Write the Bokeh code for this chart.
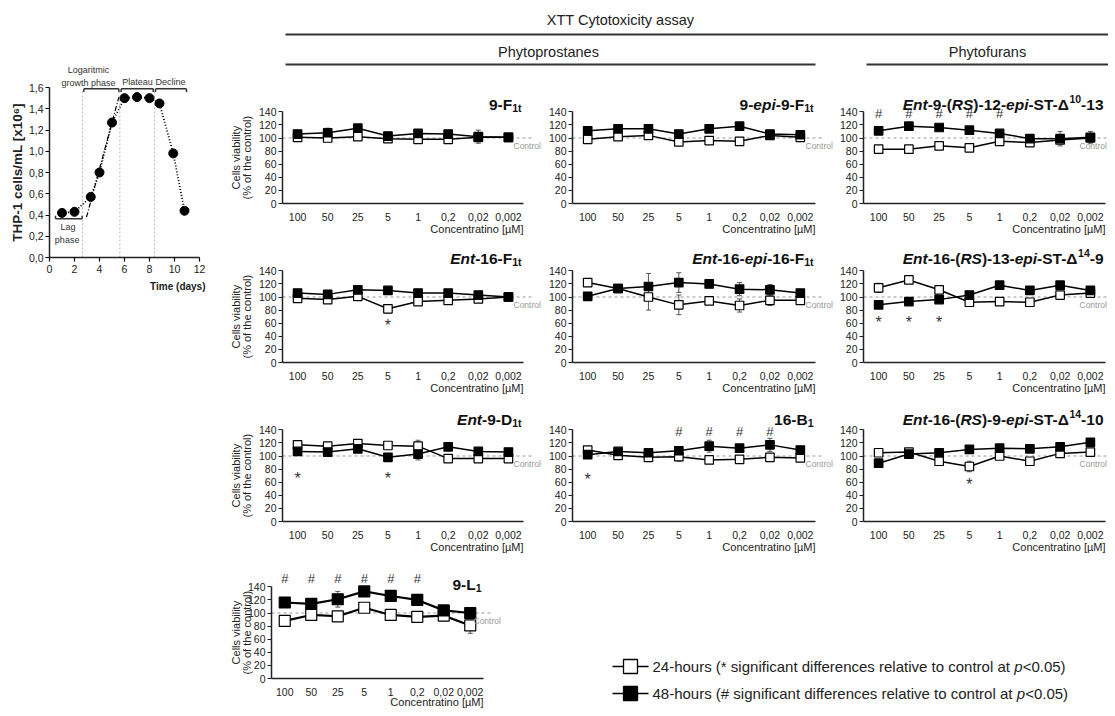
import math
from bokeh.plotting import figure
from bokeh.models import (Range1d, FixedTicker, Label, Whisker, ColumnDataSource,
                          TeeHead, Spacer, CustomJSTickFormatter)
from bokeh.layouts import row, column
from bokeh.embed import file_html
from bokeh.resources import INLINE
from bokeh.core.properties import value

FONT = "Liberation Sans"

# ======================= data =======================
conc_labels = ["100", "50", "25", "5", "1", "0,2", "0,02", "0,002"]
viab_yticks = [0, 20, 40, 60, 80, 100, 120, 140]
control_level = 100

growth_days = [1, 2, 3.3, 4, 5, 6, 7, 8, 8.8, 9.9, 10.8]
growth_cells = [0.42, 0.43, 0.57, 0.80, 1.27, 1.50, 1.51, 1.50, 1.45, 0.98, 0.44]
fit_days = [2.96, 5.55]
fit_cells = [0.38, 1.51]
phase_edges = [2.64, 5.63, 8.40]
growth_xticks = [0, 2, 4, 6, 8, 10, 12]
growth_yticks = [0, 0.2, 0.4, 0.6, 0.8, 1.0, 1.2, 1.4, 1.6]

# 9-F1t
f9_h24 = [101, 100, 102, 99, 98, 98, 101, 101]
f9_h24_sd = [2, 3, 2, 2, 3, 2, 4, 2]
f9_h48 = [106, 108, 115, 103, 107, 106, 102, 101]
f9_h48_sd = [2, 7, 3, 2, 3, 2, 10, 3]
# 9-epi-9-F1t
e9_h24 = [98, 102, 104, 94, 96, 95, 104, 101]
e9_h24_sd = [2, 2, 2, 3, 2, 2, 3, 2]
e9_h48 = [111, 114, 114, 106, 114, 118, 106, 105]
e9_h48_sd = [2, 2, 3, 2, 2, 2, 3, 2]
# Ent-9-(RS)-12-epi-ST-D10-13
st12_h24 = [83, 83, 88, 85, 95, 93, 97, 100]
st12_h24_sd = [2, 2, 2, 3, 2, 2, 3, 3]
st12_h48 = [111, 118, 116, 112, 107, 99, 99, 101]
st12_h48_sd = [2, 4, 4, 5, 3, 3, 11, 9]
# Ent-16-F1t
f16_h24 = [98, 96, 101, 82, 93, 95, 97, 100]
f16_h24_sd = [2, 2, 2, 6, 2, 2, 5, 2]
f16_h48 = [106, 104, 111, 110, 106, 106, 103, 100]
f16_h48_sd = [2, 2, 2, 2, 2, 2, 2, 2]
# Ent-16-epi-16-F1t
e16_h24 = [122, 113, 100, 88, 94, 87, 95, 95]
e16_h24_sd = [5, 2, 20, 15, 3, 10, 8, 4]
e16_h48 = [101, 113, 116, 122, 120, 112, 111, 106]
e16_h48_sd = [6, 2, 20, 15, 2, 10, 8, 2]
# Ent-16-(RS)-13-epi-ST-D14-9
st13_h24 = [114, 126, 111, 92, 93, 92, 103, 106]
st13_h24_sd = [7, 2, 3, 2, 3, 3, 3, 3]
st13_h48 = [88, 93, 96, 103, 118, 110, 118, 110]
st13_h48_sd = [2, 2, 2, 2, 2, 2, 2, 2]
# Ent-9-D1t
d9_h24 = [117, 115, 119, 116, 115, 96, 96, 96]
d9_h24_sd = [3, 2, 2, 2, 9, 3, 2, 2]
d9_h48 = [107, 106, 111, 98, 103, 114, 107, 106]
d9_h48_sd = [3, 4, 2, 2, 9, 3, 2, 2]
# 16-B1
b16_h24 = [109, 101, 98, 99, 94, 95, 98, 97]
b16_h24_sd = [2, 2, 2, 7, 2, 2, 2, 2]
b16_h48 = [102, 107, 105, 108, 115, 112, 117, 109]
b16_h48_sd = [2, 2, 2, 3, 9, 2, 10, 2]
# Ent-16-(RS)-9-epi-ST-D14-10
st9_h24 = [105, 106, 92, 84, 100, 92, 104, 106]
st9_h24_sd = [2, 2, 3, 8, 3, 3, 3, 3]
st9_h48 = [89, 103, 105, 110, 112, 111, 114, 121]
st9_h48_sd = [2, 2, 2, 4, 2, 2, 3, 4]
# 9-L1
l9_h24 = [88, 97, 95, 108, 97, 94, 96, 81]
l9_h24_sd = [3, 3, 3, 6, 3, 3, 8, 12]
l9_h48 = [116, 114, 121, 133, 126, 120, 104, 100]
l9_h48_sd = [3, 3, 12, 3, 3, 3, 3, 3]

legend_24 = ["24-hours (* significant differences relative to control at ", "p", "<0.05)"]
legend_48 = ["48-hours (# significant differences relative to control at ", "p", "<0.05)"]

# ======================= geometry (page px) =======================
SCALE = 0.655      # px per % unit
TOTAL_H = 702
# fig_x0, fig_x1, axis_left, axis_right, control-line extension, control label start
COLS = {"A": (223, 544, 282, 523, 8, 513), "B": (544, 836, 572, 815, 8, 805),
        "C": (836, 1108, 863, 1105, 3, 1079), "L": (223, 505, 271, 483, 8, 473)}
# fig_top, height, zero line y, title baseline above zero, x-label offset below zero
ROWS = {1: (75, 163, 203, 99, 25), 2: (238, 160, 362, 104, 25), 3: (398, 162, 521, 102, 25),
        4: (560, 150, 678, 94, 23)}

BW = {'-': 333, '(': 333, ')': 333, ' ': 278, 'E': 667, 'n': 611, 't': 333, 'e': 556, 'p': 611,
      'i': 278, 'S': 667, 'T': 611, 'R': 722, 'F': 611, 'D': 722, 'B': 722, 'L': 611, 'Δ': 700}
RW = {' ': 278, '(': 333, ')': 333, '*': 389, '#': 556, '-': 333, '<': 584, '.': 278,
      'a': 556, 'b': 556, 'c': 500, 'd': 556, 'e': 556, 'f': 278, 'g': 556, 'h': 556, 'i': 222,
      'l': 222, 'm': 833, 'n': 556, 'o': 556, 'p': 556, 'r': 333, 's': 500, 't': 278, 'u': 556,
      'v': 500, 'w': 722, 'y': 500, 'x': 500}
for d in "0123456789":
    BW[d] = 556
    RW[d] = 556


def twidth(s, table, size):
    return sum(table.get(c, 600) for c in s) * size / 1000.0


def add_title(p, runs, x_right, unit, y_base):
    TS, SS = 15.5, 10.5
    widths = [twidth(t, BW, SS if k in ("sub", "sup") else TS) for t, k in runs]
    cur = x_right - sum(widths) / unit
    for (t, k), w in zip(runs, widths):
        y, size, style = y_base, TS, "bold"
        if k == "sub":
            y, size = y_base - 3 / SCALE, SS
        elif k == "sup":
            y, size = y_base + 6 / SCALE, SS
        elif k == "bi":
            style = "bold italic"
        p.add_layout(Label(x=cur, y=y, text=t, text_align="left", text_baseline="alphabetic",
                           text_font=FONT, text_font_size=f"{size}px", text_font_style=style,
                           text_color="#111"))
        cur += w / unit


def style_axis(ax, size="10.5px"):
    ax.axis_line_width = 1.5
    ax.axis_line_color = "#222"
    ax.minor_tick_line_color = None
    ax.major_label_text_font = FONT
    ax.major_label_text_font_size = size
    ax.major_label_text_color = "#222"


def viability_panel(col, rw, runs, h24, h24_sd, h48, h48_sd, sig24=(), sig48=(),
                    star_y=65, hash_y=138, ylabel=False, big=False):
    fx0, fx1, al, ar, ext, cpx = COLS[col]
    top, height, zero, title_px, xl_off = ROWS[rw]
    unit = (ar - al) / 8.0
    x0 = -0.5 - (al - fx0) / unit
    x1 = -0.5 + (fx1 - al) / unit
    y0 = -(top + height - zero) / SCALE
    y1 = (zero - top) / SCALE
    p = figure(width=fx1 - fx0, height=height, x_range=Range1d(x0, x1), y_range=Range1d(y0, y1),
               min_border=0, output_backend="svg", toolbar_location=None, title=None)
    p.grid.visible = False
    p.outline_line_color = None
    p.background_fill_color = "white"
    p.border_fill_color = "white"

    xa = p.xaxis[0]
    xa.fixed_location = 0
    xa.ticker = FixedTicker(ticks=list(range(len(conc_labels))))
    xa.major_label_overrides = {i: lab for i, lab in enumerate(conc_labels)}
    xa.bounds = (-0.5, 7.5)
    xa.major_tick_line_color = None
    xa.major_label_standoff = 3
    style_axis(xa)

    ya = p.yaxis[0]
    ya.fixed_location = -0.5
    ya.ticker = FixedTicker(ticks=viab_yticks)
    ya.bounds = (0, 140)
    ya.major_tick_out = 4
    ya.major_tick_in = 0
    ya.major_tick_line_width = 1.2
    ya.major_tick_line_color = "#222"
    ya.major_label_standoff = 2
    style_axis(ya)

    p.line([-0.5, 7.5 + ext / unit], [control_level, control_level], line_color="#999",
           line_dash="3 3", line_width=1.2, level="underlay")
    p.add_layout(Label(x=-0.5 + (cpx - al) / unit, y=control_level - 2.5 / SCALE, text="Control",
                       text_align="left", text_baseline="top", text_font=FONT,
                       text_font_size="8.5px", text_color="#999"))

    idx = list(range(len(conc_labels)))
    ms = 11 if big else 8.5
    lw = 2.2 if big else 1.5
    for vals, sds, fill in ((h24, h24_sd, "white"), (h48, h48_sd, "black")):
        src = ColumnDataSource(dict(x=idx, y=vals,
                                    upper=[v + s for v, s in zip(vals, sds)],
                                    lower=[v - s for v, s in zip(vals, sds)]))
        p.add_layout(Whisker(source=src, base="x", upper="upper", lower="lower",
                             level="underlay", line_color="#555", line_width=1,
                             upper_head=TeeHead(size=5, line_color="#555", line_width=1),
                             lower_head=TeeHead(size=5, line_color="#555", line_width=1)))
        p.line("x", "y", source=src, line_color="black", line_width=lw)
        p.scatter("x", "y", source=src, marker="square", size=ms, fill_color=fill,
                  line_color="black", line_width=1.2)

    if sig24:
        p.text(x=list(sig24), y=[star_y - 4] * len(sig24), text=["*"] * len(sig24),
               text_align="center", text_baseline="middle", text_font=value(FONT),
               text_font_size="16px", text_color="#333")
    if sig48:
        p.text(x=list(sig48), y=[hash_y] * len(sig48), text=["#"] * len(sig48),
               text_align="center", text_baseline="middle", text_font=value(FONT),
               text_font_size="13px", text_color="#333")

    if ylabel:
        for txt, px in (("Cells viability", 235), ("(% of the control)", 246)):
            p.add_layout(Label(x=-0.5 + (px - al) / unit, y=70, text=txt, angle=math.pi / 2,
                               text_align="center", text_baseline="middle", text_font=FONT,
                               text_font_size="11px", text_color="#222"))

    p.add_layout(Label(x=7.5, y=-xl_off / SCALE, text="Concentratino [µM]", text_align="right",
                       text_baseline="middle", text_font=FONT, text_font_size="11px",
                       text_color="#222"))

    add_title(p, runs, 7.5 - 2 / unit, unit, title_px / SCALE)
    return p


# ======================= growth curve =======================
GX, GY = 12.5, 106.25   # px per unit
g = figure(width=215, height=292, x_range=Range1d(-41 / GX, 174 / GX),
           y_range=Range1d(-43 / GY, 249 / GY), min_border=0,
           output_backend="svg", toolbar_location=None, title=None)
g.grid.visible = False
g.outline_line_color = None
gx = g.xaxis[0]
gx.fixed_location = 0
gx.ticker = FixedTicker(ticks=growth_xticks)
gx.bounds = (0, 12)
gx.major_tick_out = 4
gx.major_tick_in = 0
gx.major_tick_line_width = 1.2
gx.major_label_standoff = 3
style_axis(gx)
gy = g.yaxis[0]
gy.fixed_location = 0
gy.ticker = FixedTicker(ticks=growth_yticks)
gy.formatter = CustomJSTickFormatter(code="return tick.toFixed(1).replace('.', ',');")
gy.bounds = (0, 1.6)
gy.major_tick_out = 4
gy.major_tick_in = 0
gy.major_tick_line_width = 1.2
gy.major_label_standoff = 2
style_axis(gy)

g.segment(x0=phase_edges, y0=[0] * 3, x1=phase_edges, y1=[1.57] * 3,
          line_color="#bbb", line_dash="2 2", line_width=1)
for bx0, bx1, yb, dy in ((0.48, 2.61, 0.364, 0.03), (2.75, 5.55, 1.588, -0.03),
                         (5.73, 8.30, 1.588, -0.03), (8.48, 10.96, 1.588, -0.03)):
    g.segment(x0=[bx0, bx0, bx1], y0=[yb, yb, yb], x1=[bx1, bx0, bx1], y1=[yb, yb + dy, yb + dy],
              line_color="#333", line_width=1.5)
g.text(x=[3.12, 3.12, 7.04, 9.68, 1.48, 1.41], y=[1.767, 1.647, 1.65, 1.65, 0.285, 0.166],
       text=["Logaritmic", "growth phase", "Plateau", "Decline", "Lag", "phase"],
       text_align="center", text_baseline="middle", text_font=value(FONT),
       text_font_size="9px", text_color="#333")
g.line(fit_days, fit_cells, line_color="black", line_dash="5 2 1 2", line_width=1.2)
g.line(growth_days, growth_cells, line_color="black", line_dash="1 2", line_width=1.8)
g.scatter(growth_days, growth_cells, marker="circle", size=9, fill_color="black", line_color="black")
g.add_layout(Label(x=-2.56, y=0.8, text="THP-1 cells/mL [x10⁶]", angle=math.pi / 2,
                   text_align="center", text_baseline="middle", text_font=FONT,
                   text_font_size="13.5px", text_font_style="bold", text_color="#222"))
g.add_layout(Label(x=12.48, y=-0.273, text="Time (days)", text_align="right",
                   text_baseline="middle", text_font=FONT, text_font_size="10px",
                   text_font_style="bold", text_color="#222"))

# ======================= header =======================
hd = figure(width=885, height=67, x_range=Range1d(223, 1108), y_range=Range1d(75, 8),
            min_border=0, x_axis_location=None, y_axis_location=None,
            output_backend="svg", toolbar_location=None, title=None)
hd.grid.visible = False
hd.outline_line_color = None
hd.text(x=[620, 548, 987], y=[19, 51, 51],
        text=["XTT Cytotoxicity assay", "Phytoprostanes", "Phytofurans"],
        text_align="center", text_baseline="middle", text_font=value(FONT),
        text_font_size="14.5px", text_color="#222")
hd.segment(x0=[285, 285, 866], y0=[34, 64, 64], x1=[1108, 815, 1108], y1=[34, 64, 64],
           line_color="#333", line_width=2)

# ======================= panels =======================
pA1 = viability_panel("A", 1, [("9-F", "b"), ("1t", "sub")],
                      f9_h24, f9_h24_sd, f9_h48, f9_h48_sd, ylabel=True)
pB1 = viability_panel("B", 1, [("9-", "b"), ("epi", "bi"), ("-9-F", "b"), ("1t", "sub")],
                      e9_h24, e9_h24_sd, e9_h48, e9_h48_sd)
pC1 = viability_panel("C", 1, [("Ent", "bi"), ("-9-(", "b"), ("RS", "bi"), (")-12-", "b"),
                               ("epi", "bi"), ("-ST-Δ", "b"), ("10", "sup"), ("-13", "b")],
                      st12_h24, st12_h24_sd, st12_h48, st12_h48_sd, sig48=[0, 1, 2, 3, 4])
pA2 = viability_panel("A", 2, [("Ent", "bi"), ("-16-F", "b"), ("1t", "sub")],
                      f16_h24, f16_h24_sd, f16_h48, f16_h48_sd, sig24=[3], star_y=61, ylabel=True)
pB2 = viability_panel("B", 2, [("Ent", "bi"), ("-16-", "b"), ("epi", "bi"), ("-16-F", "b"), ("1t", "sub")],
                      e16_h24, e16_h24_sd, e16_h48, e16_h48_sd)
pC2 = viability_panel("C", 2, [("Ent", "bi"), ("-16-(", "b"), ("RS", "bi"), (")-13-", "b"),
                               ("epi", "bi"), ("-ST-Δ", "b"), ("14", "sup"), ("-9", "b")],
                      st13_h24, st13_h24_sd, st13_h48, st13_h48_sd, sig24=[0, 1, 2], star_y=65)
pA3 = viability_panel("A", 3, [("Ent", "bi"), ("-9-D", "b"), ("1t", "sub")],
                      d9_h24, d9_h24_sd, d9_h48, d9_h48_sd, sig24=[0, 3], star_y=70, ylabel=True)
pB3 = viability_panel("B", 3, [("16-B", "b"), ("1", "sub")],
                      b16_h24, b16_h24_sd, b16_h48, b16_h48_sd, sig24=[0], sig48=[3, 4, 5, 6],
                      star_y=68, hash_y=138)
pC3 = viability_panel("C", 3, [("Ent", "bi"), ("-16-(", "b"), ("RS", "bi"), (")-9-", "b"),
                               ("epi", "bi"), ("-ST-Δ", "b"), ("14", "sup"), ("-10", "b")],
                      st9_h24, st9_h24_sd, st9_h48, st9_h48_sd, sig24=[3], star_y=61)
pL = viability_panel("L", 4, [("9-L", "b"), ("1", "sub")],
                     l9_h24, l9_h24_sd, l9_h48, l9_h48_sd, sig48=[0, 1, 2, 3, 4, 5],
                     hash_y=153, ylabel=True, big=True)

# ======================= legend =======================
lg_top, lg_h = ROWS[4][0], ROWS[4][1]
lg = figure(width=603, height=lg_h, x_range=Range1d(505, 1108), y_range=Range1d(lg_top + lg_h, lg_top),
            min_border=0, x_axis_location=None, y_axis_location=None,
            output_backend="svg", toolbar_location=None, title=None)
lg.grid.visible = False
lg.outline_line_color = None
LS = 15.0
for parts, yy, fill in ((legend_24, 666, "white"), (legend_48, 693, "black")):
    lg.segment(x0=[612], y0=[yy], x1=[648], y1=[yy], line_color="black", line_width=1.5)
    lg.scatter([630], [yy], marker="square", size=14, fill_color=fill, line_color="black",
               line_width=1.3)
    cx = 652.0
    for i, part in enumerate(parts):
        lg.text(x=[cx], y=[yy], text=[part], text_align="left", text_baseline="middle",
                text_font=value(FONT), text_font_size=f"{LS}px",
                text_font_style="italic" if i == 1 else "normal", text_color="#222")
        cx += twidth(part, RW, LS)

# ======================= layout =======================
left = column(g, Spacer(width=215, height=TOTAL_H - 292))
right = column(hd, row(pA1, pB1, pC1), row(pA2, pB2, pC2), row(pA3, pB3, pC3), row(pL, lg))
layout = column(Spacer(width=1108, height=8), row(Spacer(width=8, height=TOTAL_H), left, right))

open("out.html", "w").write(file_html(layout, INLINE, title="XTT Cytotoxicity assay"))
